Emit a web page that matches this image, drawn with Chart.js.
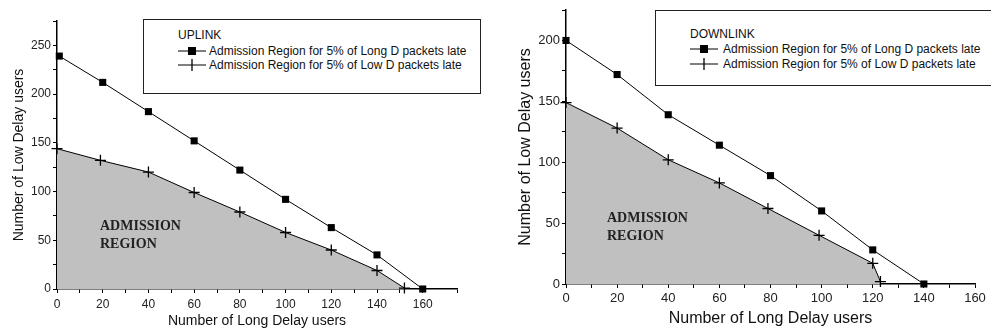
<!DOCTYPE html>
<html>
<head>
<meta charset="utf-8">
<script src="https://cdn.jsdelivr.net/npm/chart.js@4.4.1/dist/chart.umd.min.js"></script>
<style>
  body { margin: 0; background: #fff; width: 991px; height: 332px; overflow: hidden; position: relative; font-family: "Liberation Sans", Arial, sans-serif; }
  .wrap { position: absolute; top: 0; height: 332px; }
  .legend { position: absolute; border: 1px solid #222; background: #fff; font-size: 12px; color: #111; box-sizing: border-box; }
  .legend .ttl { position: absolute; }
  .legend .row { position: absolute; white-space: nowrap; }
  .legend svg { position: absolute; }
  .region { position: absolute; font-family: "Liberation Serif", "Times New Roman", serif; font-weight: bold; font-size: 14px; line-height: 18px; color: #222; }
</style>
</head>
<body>
<div class="wrap" style="left:0;width:500px"><canvas id="upChart" width="500" height="332"></canvas></div>
<div class="wrap" style="left:500px;width:491px"><canvas id="downChart" width="491" height="332"></canvas></div>

<div class="legend" style="left:143px;top:19px;width:338px;height:75px">
  <div class="ttl" style="left:34px;top:8px">UPLINK</div>
  <svg style="left:34px;top:24px" width="30" height="14"><line x1="0" y1="7" x2="28" y2="7" stroke="#000" stroke-width="1"/><rect x="10" y="3" width="8" height="8" fill="#000"/></svg>
  <div class="row" style="left:65px;top:24px">Admission Region for 5% of Long D packets late</div>
  <svg style="left:34px;top:38px" width="30" height="14"><line x1="0" y1="7" x2="28" y2="7" stroke="#000" stroke-width="1"/><line x1="14" y1="1" x2="14" y2="13" stroke="#000" stroke-width="1.3"/></svg>
  <div class="row" style="left:65px;top:38px">Admission Region for 5% of Low D packets late</div>
</div>
<div class="legend" style="left:655px;top:10px;width:340px;height:76px">
  <div class="ttl" style="left:34px;top:16px">DOWNLINK</div>
  <svg style="left:34px;top:31px" width="30" height="14"><line x1="0" y1="7" x2="28" y2="7" stroke="#000" stroke-width="1"/><rect x="10" y="3" width="8" height="8" fill="#000"/></svg>
  <div class="row" style="left:67px;top:31px">Admission Region for 5% of Long D packets late</div>
  <svg style="left:34px;top:46px" width="30" height="14"><line x1="0" y1="7" x2="28" y2="7" stroke="#000" stroke-width="1"/><line x1="14" y1="1" x2="14" y2="13" stroke="#000" stroke-width="1.3"/></svg>
  <div class="row" style="left:67px;top:46px">Admission Region for 5% of Low D packets late</div>
</div>

<div class="region" style="left:100px;top:217px">ADMISSION<br>REGION</div>
<div class="region" style="left:607px;top:209px">ADMISSION<br>REGION</div>

<script>
// UPLINK
var upLongX = [1, 20, 40, 60, 80, 100, 120, 140, 160];
var upLongY = [239, 212, 182, 152, 122, 92, 63, 35, 0];
var upLowX = [0, 19, 40, 60, 80, 100, 120, 140, 152];
var upLowY = [144, 132, 120, 99, 79, 58, 40, 19, 1];

// DOWNLINK
var downLongX = [0, 20, 40, 60, 80, 100, 120, 140];
var downLongY = [200, 172, 139, 114, 89, 60, 28, 0];
var downLowX = [0, 20, 40, 60, 79, 99, 120, 123];
var downLowY = [149, 128, 102, 83, 62, 40, 17, 2];

var longLabel = 'Admission Region for 5% of Long D packets late';
var lowLabel = 'Admission Region for 5% of Low D packets late';
var xTitle = 'Number of Long Delay users';
var yTitle = 'Number of Low Delay users';

function toPoints(xs, ys) {
    return xs.map(function(x, i) { return { x: x, y: ys[i] }; });
}

function makeChart(id, cfg) {
    var ctx = document.getElementById(id).getContext('2d');
    return new Chart(ctx, {
        type: 'line',
        data: {
            datasets: [{
                label: longLabel,
                data: toPoints(cfg.longX, cfg.longY),
                borderColor: '#000',
                borderWidth: 1,
                backgroundColor: '#000',
                pointStyle: 'rect',
                pointRadius: 5,
                pointBorderWidth: 0,
                fill: false,
                clip: false
            }, {
                label: lowLabel,
                data: toPoints(cfg.lowX, cfg.lowY),
                borderColor: '#000',
                borderWidth: 1,
                backgroundColor: '#c0c0c0',
                pointStyle: 'cross',
                pointRadius: 5.5,
                pointBorderWidth: 1.3,
                pointBorderColor: '#000',
                fill: 'origin',
                clip: false
            }]
        },
        options: {
            responsive: false,
            animation: false,
            layout: { padding: cfg.padding },
            plugins: { legend: { display: false }, tooltip: { enabled: false } },
            scales: {
                x: {
                    type: 'linear',
                    min: 0,
                    max: cfg.xMax,
                    afterFit: function(s) { s.height = cfg.xH; },
                    border: { color: '#000', width: 1.5 },
                    grid: { drawOnChartArea: false, drawTicks: true, tickLength: 4, color: '#000' },
                    ticks: {
                        stepSize: 10,
                        autoSkip: false,
                        maxRotation: 0,
                        padding: cfg.xPad,
                        color: '#222',
                        font: { family: 'Liberation Sans', size: cfg.tickSize },
                        callback: function(v) { return v % 20 === 0 ? v : ''; }
                    },
                    title: {
                        display: true,
                        text: xTitle,
                        color: '#111',
                        font: { family: 'Liberation Sans', size: cfg.titleSize },
                        padding: { top: 0, bottom: cfg.xTitlePad }
                    }
                },
                y: {
                    type: 'linear',
                    min: 0,
                    max: cfg.yMax,
                    afterFit: function(s) { s.width = cfg.yW; },
                    border: { color: '#000', width: 1.5 },
                    grid: { drawOnChartArea: false, drawTicks: true, tickLength: 4, color: '#000' },
                    ticks: {
                        stepSize: 25,
                        padding: 2,
                        color: '#222',
                        font: { family: 'Liberation Sans', size: cfg.tickSize },
                        callback: function(v) { return v % 50 === 0 ? v : ''; }
                    },
                    title: {
                        display: true,
                        text: yTitle,
                        color: '#111',
                        font: { family: 'Liberation Sans', size: cfg.titleSize },
                        padding: { top: cfg.yTitlePad, bottom: 0 }
                    }
                }
            }
        }
    });
}

var upChart = makeChart('upChart', {
    longX: upLongX, longY: upLongY, lowX: upLowX, lowY: upLowY,
    xMax: 175, yMax: 275,
    padding: { top: 21, right: 43, left: 0, bottom: 0 },
    xH: 43, yW: 57, xPad: 4, tickSize: 12, titleSize: 14,
    xTitlePad: 2, yTitlePad: 11
});

var downChart = makeChart('downChart', {
    longX: downLongX, longY: downLongY, lowX: downLowX, lowY: downLowY,
    xMax: 160, yMax: 225,
    padding: { top: 10, right: 16, left: 0, bottom: 0 },
    xH: 48, yW: 66, xPad: 3, tickSize: 13, titleSize: 16,
    xTitlePad: 4, yTitlePad: 16
});
</script>
</body>
</html>
